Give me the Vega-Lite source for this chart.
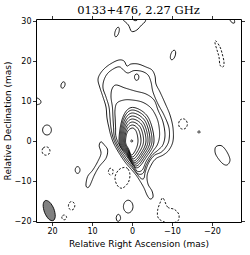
{
"$schema": "https://vega.github.io/schema/vega-lite/v6.json",
"width": 205, "height": 203,
"autosize": {"type": "none"},
"padding": {"left": 36, "top": 19, "right": 9, "bottom": 33},
"title": {"text": "0133+476, 2.27 GHz", "font": "DejaVu Serif", "fontSize": 11.5, "fontWeight": "normal", "offset": -1.5, "anchor": "middle", "color": "#000"},
"config": {
  "view": {"stroke": "#000", "strokeWidth": 1},
  "axis": {"grid": false, "domain": false, "tickColor": "#000", "tickSize": 3.5, "tickWidth": 0.8, "labelFont": "DejaVu Sans", "labelFontSize": 8, "labelColor": "#000", "labelPadding": 1.5, "titleFont": "DejaVu Sans", "titleFontSize": 9, "titleFontWeight": "normal", "titleColor": "#000"}
},
"datasets": {
"cl": [
{"id":"c1","o":1,"x":3.25,"y":20.25,"t":"p"},{"id":"c1","o":2,"x":5,"y":19.5,"t":"p"},{"id":"c1","o":3,"x":6.75,"y":18.25,"t":"p"},{"id":"c1","o":4,"x":8,"y":16.75,"t":"p"},{"id":"c1","o":5,"x":8.5,"y":15.25,"t":"p"},{"id":"c1","o":6,"x":8,"y":13.25,"t":"p"},{"id":"c1","o":7,"x":7.25,"y":11,"t":"p"},{"id":"c1","o":8,"x":6.5,"y":8.5,"t":"p"},{"id":"c1","o":9,"x":6.25,"y":5.75,"t":"p"},{"id":"c1","o":10,"x":5.75,"y":3.25,"t":"p"},{"id":"c1","o":11,"x":5.25,"y":1.25,"t":"p"},{"id":"c1","o":12,"x":4.5,"y":-0.75,"t":"p"},{"id":"c1","o":13,"x":3.25,"y":-3,"t":"p"},{"id":"c1","o":14,"x":1.75,"y":-5.25,"t":"p"},{"id":"c1","o":15,"x":0.25,"y":-7,"t":"p"},{"id":"c1","o":16,"x":-1,"y":-8.5,"t":"p"},{"id":"c1","o":17,"x":-2,"y":-10,"t":"p"},{"id":"c1","o":18,"x":-3,"y":-11.75,"t":"p"},{"id":"c1","o":19,"x":-3.75,"y":-13.5,"t":"p"},{"id":"c1","o":20,"x":-4.5,"y":-14.5,"t":"p"},{"id":"c1","o":21,"x":-5.25,"y":-14,"t":"p"},{"id":"c1","o":22,"x":-5,"y":-12.5,"t":"p"},{"id":"c1","o":23,"x":-4,"y":-10.75,"t":"p"},{"id":"c1","o":24,"x":-3.8,"y":-8.5,"t":"p"},{"id":"c1","o":25,"x":-4.8,"y":-6,"t":"p"},{"id":"c1","o":26,"x":-6,"y":-4.4,"t":"p"},{"id":"c1","o":27,"x":-7.8,"y":-3.5,"t":"p"},{"id":"c1","o":28,"x":-9.25,"y":-2.25,"t":"p"},{"id":"c1","o":29,"x":-10.25,"y":0,"t":"p"},{"id":"c1","o":30,"x":-10.25,"y":3.25,"t":"p"},{"id":"c1","o":31,"x":-9.5,"y":6.5,"t":"p"},{"id":"c1","o":32,"x":-8.25,"y":9.5,"t":"p"},{"id":"c1","o":33,"x":-7,"y":12.25,"t":"p"},{"id":"c1","o":34,"x":-6,"y":14.25,"t":"p"},{"id":"c1","o":35,"x":-5.75,"y":16.25,"t":"p"},{"id":"c1","o":36,"x":-5,"y":17.75,"t":"p"},{"id":"c1","o":37,"x":-3.5,"y":18.5,"t":"p"},{"id":"c1","o":38,"x":-1.5,"y":19.25,"t":"p"},{"id":"c1","o":39,"x":0.25,"y":19.25,"t":"p"},{"id":"c1","o":40,"x":1.25,"y":18.75,"t":"p"},{"id":"c1","o":41,"x":2,"y":20,"t":"p"},
{"id":"c2","o":1,"x":3,"y":18.5,"t":"p"},{"id":"c2","o":2,"x":4.25,"y":18.25,"t":"p"},{"id":"c2","o":3,"x":6,"y":17,"t":"p"},{"id":"c2","o":4,"x":7,"y":15.25,"t":"p"},{"id":"c2","o":5,"x":7.25,"y":13.25,"t":"p"},{"id":"c2","o":6,"x":6.5,"y":11,"t":"p"},{"id":"c2","o":7,"x":5.75,"y":8.5,"t":"p"},{"id":"c2","o":8,"x":5.5,"y":5.75,"t":"p"},{"id":"c2","o":9,"x":5.25,"y":3.25,"t":"p"},{"id":"c2","o":10,"x":4.85,"y":1.25,"t":"p"},{"id":"c2","o":11,"x":4.15,"y":-0.6,"t":"p"},{"id":"c2","o":12,"x":2.95,"y":-2.8,"t":"p"},{"id":"c2","o":13,"x":1.45,"y":-5,"t":"p"},{"id":"c2","o":14,"x":-0.05,"y":-6.7,"t":"p"},{"id":"c2","o":15,"x":-1.3,"y":-8.3,"t":"p"},{"id":"c2","o":16,"x":-2.3,"y":-9.4,"t":"p"},{"id":"c2","o":17,"x":-3,"y":-9.3,"t":"p"},{"id":"c2","o":18,"x":-3.3,"y":-7.8,"t":"p"},{"id":"c2","o":19,"x":-4.2,"y":-5.4,"t":"p"},{"id":"c2","o":20,"x":-5.6,"y":-3.6,"t":"p"},{"id":"c2","o":21,"x":-7.3,"y":-2.8,"t":"p"},{"id":"c2","o":22,"x":-8.5,"y":-1.5,"t":"p"},{"id":"c2","o":23,"x":-9.25,"y":0.25,"t":"p"},{"id":"c2","o":24,"x":-9.25,"y":3.25,"t":"p"},{"id":"c2","o":25,"x":-8,"y":6.5,"t":"p"},{"id":"c2","o":26,"x":-6.5,"y":9.25,"t":"p"},{"id":"c2","o":27,"x":-5.25,"y":12.25,"t":"p"},{"id":"c2","o":28,"x":-4.75,"y":14.75,"t":"p"},{"id":"c2","o":29,"x":-4,"y":16.5,"t":"p"},{"id":"c2","o":30,"x":-2.5,"y":17.4,"t":"p"},{"id":"c2","o":31,"x":-0.5,"y":17.6,"t":"p"},{"id":"c2","o":32,"x":1,"y":17,"t":"p"},{"id":"c2","o":33,"x":2,"y":17.6,"t":"p"},
{"id":"c3","o":1,"x":4,"y":14,"t":"p"},{"id":"c3","o":2,"x":5,"y":13,"t":"p"},{"id":"c3","o":3,"x":5.25,"y":11,"t":"p"},{"id":"c3","o":4,"x":4.9,"y":8.5,"t":"p"},{"id":"c3","o":5,"x":4.75,"y":5.75,"t":"p"},{"id":"c3","o":6,"x":4.6,"y":3.25,"t":"p"},{"id":"c3","o":7,"x":4.45,"y":1.3,"t":"p"},{"id":"c3","o":8,"x":3.85,"y":-0.45,"t":"p"},{"id":"c3","o":9,"x":2.65,"y":-2.6,"t":"p"},{"id":"c3","o":10,"x":1.15,"y":-4.75,"t":"p"},{"id":"c3","o":11,"x":-0.3,"y":-6.6,"t":"p"},{"id":"c3","o":12,"x":-1.5,"y":-8.2,"t":"p"},{"id":"c3","o":13,"x":-2.8,"y":-8,"t":"p"},{"id":"c3","o":14,"x":-3.6,"y":-5.9,"t":"p"},{"id":"c3","o":15,"x":-5,"y":-3.6,"t":"p"},{"id":"c3","o":16,"x":-6.6,"y":-2.2,"t":"p"},{"id":"c3","o":17,"x":-7.75,"y":-0.9,"t":"p"},{"id":"c3","o":18,"x":-8.25,"y":1.5,"t":"p"},{"id":"c3","o":19,"x":-7.75,"y":4.75,"t":"p"},{"id":"c3","o":20,"x":-6.5,"y":7.75,"t":"p"},{"id":"c3","o":21,"x":-5.5,"y":10.25,"t":"p"},{"id":"c3","o":22,"x":-3.5,"y":11.75,"t":"p"},{"id":"c3","o":23,"x":-0.75,"y":12.5,"t":"p"},{"id":"c3","o":24,"x":1.75,"y":13.25,"t":"p"},
{"id":"c4","o":1,"x":3.75,"y":9.5,"t":"p"},{"id":"c4","o":2,"x":4.25,"y":7.75,"t":"p"},{"id":"c4","o":3,"x":4.2,"y":5.5,"t":"p"},{"id":"c4","o":4,"x":4.1,"y":3.25,"t":"p"},{"id":"c4","o":5,"x":4.05,"y":1.35,"t":"p"},{"id":"c4","o":6,"x":3.5,"y":-0.3,"t":"p"},{"id":"c4","o":7,"x":2.35,"y":-2.4,"t":"p"},{"id":"c4","o":8,"x":0.85,"y":-4.5,"t":"p"},{"id":"c4","o":9,"x":-0.5,"y":-6.4,"t":"p"},{"id":"c4","o":10,"x":-1.4,"y":-7.6,"t":"p"},{"id":"c4","o":11,"x":-2.6,"y":-7.2,"t":"p"},{"id":"c4","o":12,"x":-3.6,"y":-5,"t":"p"},{"id":"c4","o":13,"x":-5.2,"y":-2.6,"t":"p"},{"id":"c4","o":14,"x":-6.4,"y":-0.8,"t":"p"},{"id":"c4","o":15,"x":-6.9,"y":1.5,"t":"p"},{"id":"c4","o":16,"x":-6.6,"y":4.5,"t":"p"},{"id":"c4","o":17,"x":-5.75,"y":6.75,"t":"p"},{"id":"c4","o":18,"x":-4.5,"y":8.5,"t":"p"},{"id":"c4","o":19,"x":-2.5,"y":9.75,"t":"p"},{"id":"c4","o":20,"x":0,"y":10.25,"t":"p"},{"id":"c4","o":21,"x":2,"y":10.25,"t":"p"},
{"id":"r1","o":1,"x":-1.5,"y":0,"t":"p"},{"id":"r1","o":2,"x":-1.08,"y":2.34,"t":"p"},{"id":"r1","o":3,"x":-0.1,"y":3.25,"t":"p"},{"id":"r1","o":4,"x":1.15,"y":2.28,"t":"p"},{"id":"r1","o":5,"x":1.6,"y":-0.3,"t":"p"},{"id":"r1","o":6,"x":0.8,"y":-2.1,"t":"p"},{"id":"r1","o":7,"x":0.1,"y":-3.5,"t":"p"},{"id":"r1","o":8,"x":-0.98,"y":-2.1,"t":"p"},
{"id":"r2","o":1,"x":-2.25,"y":0,"t":"p"},{"id":"r2","o":2,"x":-1.62,"y":2.88,"t":"p"},{"id":"r2","o":3,"x":-0.1,"y":4,"t":"p"},{"id":"r2","o":4,"x":1.32,"y":2.8,"t":"p"},{"id":"r2","o":5,"x":1.83,"y":-0.3,"t":"p"},{"id":"r2","o":6,"x":0.89,"y":-2.27,"t":"p"},{"id":"r2","o":7,"x":-0.07,"y":-4,"t":"p"},{"id":"r2","o":8,"x":-1.46,"y":-2.4,"t":"p"},
{"id":"r3","o":1,"x":-2.9,"y":0,"t":"p"},{"id":"r3","o":2,"x":-2.09,"y":3.42,"t":"p"},{"id":"r3","o":3,"x":-0.1,"y":4.75,"t":"p"},{"id":"r3","o":4,"x":1.48,"y":3.33,"t":"p"},{"id":"r3","o":5,"x":2.06,"y":-0.3,"t":"p"},{"id":"r3","o":6,"x":0.97,"y":-2.44,"t":"p"},{"id":"r3","o":7,"x":-0.24,"y":-4.5,"t":"p"},{"id":"r3","o":8,"x":-1.89,"y":-2.7,"t":"p"},
{"id":"r4","o":1,"x":-3.5,"y":0,"t":"p"},{"id":"r4","o":2,"x":-2.52,"y":3.96,"t":"p"},{"id":"r4","o":3,"x":-0.1,"y":5.5,"t":"p"},{"id":"r4","o":4,"x":1.65,"y":3.85,"t":"p"},{"id":"r4","o":5,"x":2.29,"y":-0.3,"t":"p"},{"id":"r4","o":6,"x":1.06,"y":-2.61,"t":"p"},{"id":"r4","o":7,"x":-0.41,"y":-5,"t":"p"},{"id":"r4","o":8,"x":-2.28,"y":-3,"t":"p"},
{"id":"r5","o":1,"x":-4,"y":0,"t":"p"},{"id":"r5","o":2,"x":-2.88,"y":4.5,"t":"p"},{"id":"r5","o":3,"x":-0.1,"y":6.25,"t":"p"},{"id":"r5","o":4,"x":1.81,"y":4.38,"t":"p"},{"id":"r5","o":5,"x":2.52,"y":-0.3,"t":"p"},{"id":"r5","o":6,"x":1.14,"y":-2.78,"t":"p"},{"id":"r5","o":7,"x":-0.58,"y":-5.4,"t":"p"},{"id":"r5","o":8,"x":-2.6,"y":-3.24,"t":"p"},
{"id":"r6","o":1,"x":-4.5,"y":0,"t":"p"},{"id":"r6","o":2,"x":-3.24,"y":5.04,"t":"p"},{"id":"r6","o":3,"x":-0.1,"y":7,"t":"p"},{"id":"r6","o":4,"x":1.98,"y":4.9,"t":"p"},{"id":"r6","o":5,"x":2.75,"y":-0.3,"t":"p"},{"id":"r6","o":6,"x":1.23,"y":-2.96,"t":"p"},{"id":"r6","o":7,"x":-0.75,"y":-5.8,"t":"p"},{"id":"r6","o":8,"x":-2.93,"y":-3.48,"t":"p"},
{"id":"r7","o":1,"x":-5,"y":0,"t":"p"},{"id":"r7","o":2,"x":-3.6,"y":5.58,"t":"p"},{"id":"r7","o":3,"x":-0.1,"y":7.75,"t":"p"},{"id":"r7","o":4,"x":2.15,"y":5.43,"t":"p"},{"id":"r7","o":5,"x":2.98,"y":-0.3,"t":"p"},{"id":"r7","o":6,"x":1.31,"y":-3.13,"t":"p"},{"id":"r7","o":7,"x":-0.92,"y":-6.25,"t":"p"},{"id":"r7","o":8,"x":-3.25,"y":-3.75,"t":"p"},
{"id":"r8","o":1,"x":-5.5,"y":0,"t":"p"},{"id":"r8","o":2,"x":-3.96,"y":6.05,"t":"p"},{"id":"r8","o":3,"x":-0.1,"y":8.4,"t":"p"},{"id":"r8","o":4,"x":2.31,"y":5.88,"t":"p"},{"id":"r8","o":5,"x":3.21,"y":-0.3,"t":"p"},{"id":"r8","o":6,"x":1.4,"y":-3.3,"t":"p"},{"id":"r8","o":7,"x":-1.09,"y":-6.7,"t":"p"},{"id":"r8","o":8,"x":-3.58,"y":-4.02,"t":"p"},
{"id":"dot","o":1,"x":0.3,"y":0,"t":"p"},{"id":"dot","o":2,"x":0.05,"y":0.3,"t":"p"},{"id":"dot","o":3,"x":-0.2,"y":0,"t":"p"},{"id":"dot","o":4,"x":0.05,"y":-0.3,"t":"p"},
{"id":"isl","o":1,"x":-0.62,"y":16,"t":"p"},{"id":"isl","o":2,"x":-0.78,"y":16.55,"t":"p"},{"id":"isl","o":3,"x":-1.17,"y":16.75,"t":"p"},{"id":"isl","o":4,"x":-1.56,"y":16.55,"t":"p"},{"id":"isl","o":5,"x":-1.72,"y":16,"t":"p"},{"id":"isl","o":6,"x":-1.56,"y":15.4,"t":"p"},{"id":"isl","o":7,"x":-1.17,"y":15.15,"t":"p"},{"id":"isl","o":8,"x":-0.78,"y":15.4,"t":"p"},
{"id":"i1","o":1,"x":4.25,"y":27.25,"t":"p"},{"id":"i1","o":2,"x":3.89,"y":28.1,"t":"p"},{"id":"i1","o":3,"x":3.45,"y":28.45,"t":"p"},{"id":"i1","o":4,"x":3.18,"y":28.1,"t":"p"},{"id":"i1","o":5,"x":3.25,"y":27.25,"t":"p"},{"id":"i1","o":6,"x":3.61,"y":26.4,"t":"p"},{"id":"i1","o":7,"x":4.05,"y":26.05,"t":"p"},{"id":"i1","o":8,"x":4.32,"y":26.4,"t":"p"},
{"id":"i3","o":1,"x":-9.65,"y":21.5,"t":"p"},{"id":"i3","o":2,"x":-10.03,"y":22.35,"t":"p"},{"id":"i3","o":3,"x":-10.55,"y":22.7,"t":"p"},{"id":"i3","o":4,"x":-10.89,"y":22.35,"t":"p"},{"id":"i3","o":5,"x":-10.85,"y":21.5,"t":"p"},{"id":"i3","o":6,"x":-10.47,"y":20.65,"t":"p"},{"id":"i3","o":7,"x":-9.95,"y":20.3,"t":"p"},{"id":"i3","o":8,"x":-9.61,"y":20.65,"t":"p"},
{"id":"i4","o":1,"x":-21,"y":25,"t":"n"},{"id":"i4","o":2,"x":-22,"y":23.5,"t":"n"},{"id":"i4","o":3,"x":-22.5,"y":22,"t":"n"},{"id":"i4","o":4,"x":-23,"y":19.75,"t":"n"},{"id":"i4","o":5,"x":-22.75,"y":18.5,"t":"n"},{"id":"i4","o":6,"x":-22,"y":19,"t":"n"},{"id":"i4","o":7,"x":-21.75,"y":21,"t":"n"},{"id":"i4","o":8,"x":-21.25,"y":22.75,"t":"n"},{"id":"i4","o":9,"x":-20.75,"y":24.5,"t":"n"},
{"id":"i5","o":1,"x":-24.5,"y":30.3,"t":"p"},{"id":"i5","o":2,"x":-25,"y":29.6,"t":"p"},{"id":"i5","o":3,"x":-25.6,"y":29.5,"t":"p"},{"id":"i5","o":4,"x":-25.6,"y":30.2,"t":"p"},{"id":"i5","o":5,"x":-25.2,"y":30.6,"t":"p"},
{"id":"i6","o":1,"x":17.75,"y":14,"t":"p"},{"id":"i6","o":2,"x":17.49,"y":14.57,"t":"p"},{"id":"i6","o":3,"x":17.09,"y":14.8,"t":"p"},{"id":"i6","o":4,"x":16.78,"y":14.57,"t":"p"},{"id":"i6","o":5,"x":16.75,"y":14,"t":"p"},{"id":"i6","o":6,"x":17.01,"y":13.43,"t":"p"},{"id":"i6","o":7,"x":17.41,"y":13.2,"t":"p"},{"id":"i6","o":8,"x":17.72,"y":13.43,"t":"p"},
{"id":"i8","o":1,"x":-11.65,"y":4.25,"t":"n"},{"id":"i8","o":2,"x":-11.97,"y":5.17,"t":"n"},{"id":"i8","o":3,"x":-12.75,"y":5.55,"t":"n"},{"id":"i8","o":4,"x":-13.53,"y":5.17,"t":"n"},{"id":"i8","o":5,"x":-13.85,"y":4.25,"t":"n"},{"id":"i8","o":6,"x":-13.53,"y":3.33,"t":"n"},{"id":"i8","o":7,"x":-12.75,"y":2.95,"t":"n"},{"id":"i8","o":8,"x":-11.97,"y":3.33,"t":"n"},
{"id":"i9","o":1,"x":-16.45,"y":2.25,"t":"p"},{"id":"i9","o":2,"x":-16.75,"y":2.55,"t":"p"},{"id":"i9","o":3,"x":-17.05,"y":2.25,"t":"p"},{"id":"i9","o":4,"x":-16.75,"y":1.95,"t":"p"},
{"id":"i10","o":1,"x":-21.25,"y":-1.25,"t":"p"},{"id":"i10","o":2,"x":-22.5,"y":-1.25,"t":"p"},{"id":"i10","o":3,"x":-23.75,"y":-2.75,"t":"p"},{"id":"i10","o":4,"x":-24.5,"y":-4.75,"t":"p"},{"id":"i10","o":5,"x":-23.75,"y":-6,"t":"p"},{"id":"i10","o":6,"x":-22.5,"y":-5.5,"t":"p"},{"id":"i10","o":7,"x":-21,"y":-3.5,"t":"p"},{"id":"i10","o":8,"x":-20.75,"y":-2,"t":"p"},
{"id":"i11","o":1,"x":22.35,"y":2.75,"t":"p"},{"id":"i11","o":2,"x":22.03,"y":3.64,"t":"p"},{"id":"i11","o":3,"x":21.25,"y":4,"t":"p"},{"id":"i11","o":4,"x":20.47,"y":3.64,"t":"p"},{"id":"i11","o":5,"x":20.15,"y":2.75,"t":"p"},{"id":"i11","o":6,"x":20.47,"y":1.86,"t":"p"},{"id":"i11","o":7,"x":21.25,"y":1.5,"t":"p"},{"id":"i11","o":8,"x":22.03,"y":1.86,"t":"p"},
{"id":"i12","o":1,"x":22.5,"y":-2.5,"t":"n"},{"id":"i12","o":2,"x":22.21,"y":-1.75,"t":"n"},{"id":"i12","o":3,"x":21.5,"y":-1.45,"t":"n"},{"id":"i12","o":4,"x":20.79,"y":-1.75,"t":"n"},{"id":"i12","o":5,"x":20.5,"y":-2.5,"t":"n"},{"id":"i12","o":6,"x":20.79,"y":-3.25,"t":"n"},{"id":"i12","o":7,"x":21.5,"y":-3.55,"t":"n"},{"id":"i12","o":8,"x":22.21,"y":-3.25,"t":"n"},
{"id":"i13","o":1,"x":14.2,"y":-7.25,"t":"p"},{"id":"i13","o":2,"x":14.03,"y":-6.65,"t":"p"},{"id":"i13","o":3,"x":13.6,"y":-6.4,"t":"p"},{"id":"i13","o":4,"x":13.17,"y":-6.65,"t":"p"},{"id":"i13","o":5,"x":13,"y":-7.25,"t":"p"},{"id":"i13","o":6,"x":13.17,"y":-7.85,"t":"p"},{"id":"i13","o":7,"x":13.6,"y":-8.1,"t":"p"},{"id":"i13","o":8,"x":14.03,"y":-7.85,"t":"p"},
{"id":"i14","o":1,"x":5.9,"y":-7.65,"t":"n"},{"id":"i14","o":2,"x":5.73,"y":-7.05,"t":"n"},{"id":"i14","o":3,"x":5.3,"y":-6.8,"t":"n"},{"id":"i14","o":4,"x":4.87,"y":-7.05,"t":"n"},{"id":"i14","o":5,"x":4.7,"y":-7.65,"t":"n"},{"id":"i14","o":6,"x":4.87,"y":-8.25,"t":"n"},{"id":"i14","o":7,"x":5.3,"y":-8.5,"t":"n"},{"id":"i14","o":8,"x":5.73,"y":-8.25,"t":"n"},
{"id":"i15","o":1,"x":1.9,"y":-6.6,"t":"n"},{"id":"i15","o":2,"x":1,"y":-7,"t":"n"},{"id":"i15","o":3,"x":0.5,"y":-8.5,"t":"n"},{"id":"i15","o":4,"x":1,"y":-10.5,"t":"n"},{"id":"i15","o":5,"x":2.5,"y":-11.8,"t":"n"},{"id":"i15","o":6,"x":3.75,"y":-11,"t":"n"},{"id":"i15","o":7,"x":4.25,"y":-9,"t":"n"},{"id":"i15","o":8,"x":3.3,"y":-7.2,"t":"n"},
{"id":"i16","o":1,"x":2.15,"y":-16.4,"t":"p"},{"id":"i16","o":2,"x":1.8,"y":-15.3,"t":"p"},{"id":"i16","o":3,"x":0.95,"y":-14.8,"t":"p"},{"id":"i16","o":4,"x":0.1,"y":-15.3,"t":"p"},{"id":"i16","o":5,"x":-0.25,"y":-16.4,"t":"p"},{"id":"i16","o":6,"x":0.1,"y":-17.5,"t":"p"},{"id":"i16","o":7,"x":0.95,"y":-18,"t":"p"},{"id":"i16","o":8,"x":1.8,"y":-17.5,"t":"p"},
{"id":"i17","o":1,"x":3.95,"y":-19.2,"t":"p"},{"id":"i17","o":2,"x":3.6,"y":-18.4,"t":"p"},{"id":"i17","o":3,"x":3.1,"y":-18.5,"t":"p"},{"id":"i17","o":4,"x":2.85,"y":-19.3,"t":"p"},{"id":"i17","o":5,"x":3.2,"y":-20,"t":"p"},{"id":"i17","o":6,"x":3.7,"y":-20,"t":"p"},
{"id":"i18","o":1,"x":-7.75,"y":-14.25,"t":"n"},{"id":"i18","o":2,"x":-8.9,"y":-16.5,"t":"n"},{"id":"i18","o":3,"x":-10.6,"y":-17.1,"t":"n"},{"id":"i18","o":4,"x":-11.7,"y":-18.3,"t":"n"},{"id":"i18","o":5,"x":-11.6,"y":-19.8,"t":"n"},{"id":"i18","o":6,"x":-10.5,"y":-20.4,"t":"n"},{"id":"i18","o":7,"x":-8.5,"y":-20.4,"t":"n"},{"id":"i18","o":8,"x":-6.6,"y":-19.3,"t":"n"},{"id":"i18","o":9,"x":-6.4,"y":-17.4,"t":"n"},{"id":"i18","o":10,"x":-7,"y":-15.5,"t":"n"},
{"id":"i19","o":1,"x":15.9,"y":-16.2,"t":"n"},{"id":"i19","o":2,"x":15.67,"y":-15.45,"t":"n"},{"id":"i19","o":3,"x":15.1,"y":-15.15,"t":"n"},{"id":"i19","o":4,"x":14.53,"y":-15.45,"t":"n"},{"id":"i19","o":5,"x":14.3,"y":-16.2,"t":"n"},{"id":"i19","o":6,"x":14.53,"y":-16.95,"t":"n"},{"id":"i19","o":7,"x":15.1,"y":-17.25,"t":"n"},{"id":"i19","o":8,"x":15.67,"y":-16.95,"t":"n"},
{"id":"i20","o":1,"x":17.55,"y":-19.1,"t":"n"},{"id":"i20","o":2,"x":17.37,"y":-18.68,"t":"n"},{"id":"i20","o":3,"x":16.95,"y":-18.5,"t":"n"},{"id":"i20","o":4,"x":16.53,"y":-18.68,"t":"n"},{"id":"i20","o":5,"x":16.35,"y":-19.1,"t":"n"},{"id":"i20","o":6,"x":16.53,"y":-19.52,"t":"n"},{"id":"i20","o":7,"x":16.95,"y":-19.7,"t":"n"},{"id":"i20","o":8,"x":17.37,"y":-19.52,"t":"n"},
{"id":"sn","o":1,"x":7.75,"y":-0.2,"t":"p"},{"id":"sn","o":2,"x":6.9,"y":-1,"t":"p"},{"id":"sn","o":3,"x":6.1,"y":-2.25,"t":"p"},{"id":"sn","o":4,"x":6.5,"y":-4.3,"t":"p"},{"id":"sn","o":5,"x":8.2,"y":-6.4,"t":"p"},{"id":"sn","o":6,"x":9.4,"y":-8.5,"t":"p"},{"id":"sn","o":7,"x":10.7,"y":-11.4,"t":"p"},{"id":"sn","o":8,"x":11.5,"y":-11.2,"t":"p"},{"id":"sn","o":9,"x":11.1,"y":-8.9,"t":"p"},{"id":"sn","o":10,"x":9.8,"y":-7.25,"t":"p"},{"id":"sn","o":11,"x":8.6,"y":-5.2,"t":"p"},{"id":"sn","o":12,"x":7.75,"y":-3.1,"t":"p"},{"id":"sn","o":13,"x":8.2,"y":-1.2,"t":"p"}
],
"op": [
{"id":"top","o":1,"x":2.6,"y":30.9},{"id":"top","o":2,"x":2.2,"y":30.25},{"id":"top","o":3,"x":0.9,"y":29},{"id":"top","o":4,"x":0.1,"y":27.4},{"id":"top","o":5,"x":-1.2,"y":27.75},{"id":"top","o":6,"x":-2.4,"y":29},{"id":"top","o":7,"x":-3.25,"y":29.8},{"id":"top","o":8,"x":-3.6,"y":30.9},
{"id":"top2","o":1,"x":0,"y":30.9},{"id":"top2","o":2,"x":-0.4,"y":30.2},{"id":"top2","o":3,"x":-1.2,"y":30.15},{"id":"top2","o":4,"x":-1.6,"y":30.9},
{"id":"lft","o":1,"x":24.6,"y":11.1},{"id":"lft","o":2,"x":23.4,"y":10.6},{"id":"lft","o":3,"x":22.8,"y":10},{"id":"lft","o":4,"x":23,"y":9.3},{"id":"lft","o":5,"x":24.6,"y":8.9}
],
"bm": [
{"o":1,"x":21.67,"y":-14.89},{"o":2,"x":22.21,"y":-15.94},{"o":3,"x":21.86,"y":-17.85},{"o":4,"x":20.84,"y":-19.49},{"o":5,"x":19.73,"y":-19.91},{"o":6,"x":19.19,"y":-18.86},{"o":7,"x":19.54,"y":-16.95},{"o":8,"x":20.57,"y":-15.31}
]
},
"layer": [
{
  "data": {"name": "cl"},
  "mark": {"type": "line", "interpolate": "cardinal-closed", "clip": true, "color": "#000", "strokeWidth": 0.9},
  "encoding": {
    "x": {"field": "x", "type": "quantitative", "scale": {"domain": [24, -27.25], "nice": false, "zero": false},
          "axis": {"orient": "bottom", "values": [-20, -10, 0, 10, 20], "title": "Relative Right Ascension (mas)", "titlePadding": 4.5}},
    "y": {"field": "y", "type": "quantitative", "scale": {"domain": [-20.25, 30.5], "nice": false, "zero": false},
          "axis": {"orient": "left", "values": [-20, -10, 0, 10, 20, 30], "title": "Relative Declination (mas)", "titlePadding": 1.5}},
    "detail": {"field": "id"},
    "order": {"field": "o", "type": "quantitative"},
    "strokeDash": {"field": "t", "type": "nominal", "scale": {"domain": ["p", "n"], "range": [[1, 0], [2.2, 1.6]]}, "legend": null}
  }
},
{
  "data": {"name": "op"},
  "mark": {"type": "line", "interpolate": "cardinal", "clip": true, "color": "#000", "strokeWidth": 0.9},
  "encoding": {
    "x": {"field": "x", "type": "quantitative", "axis": {"orient": "top", "values": [-20, -10, 0, 10, 20], "labels": false, "title": null}},
    "y": {"field": "y", "type": "quantitative", "axis": {"orient": "right", "values": [-20, -10, 0, 10, 20, 30], "labels": false, "title": null}},
    "detail": {"field": "id"},
    "order": {"field": "o", "type": "quantitative"}
  }
},
{
  "data": {"name": "bm"},
  "mark": {"type": "line", "interpolate": "cardinal-closed", "clip": true, "color": "#000", "fill": "#808080", "strokeWidth": 0.9},
  "encoding": {
    "x": {"field": "x", "type": "quantitative", "axis": null},
    "y": {"field": "y", "type": "quantitative", "axis": null},
    "order": {"field": "o", "type": "quantitative"}
  }
}
],
"resolve": {"axis": {"x": "independent", "y": "independent"}}
}
